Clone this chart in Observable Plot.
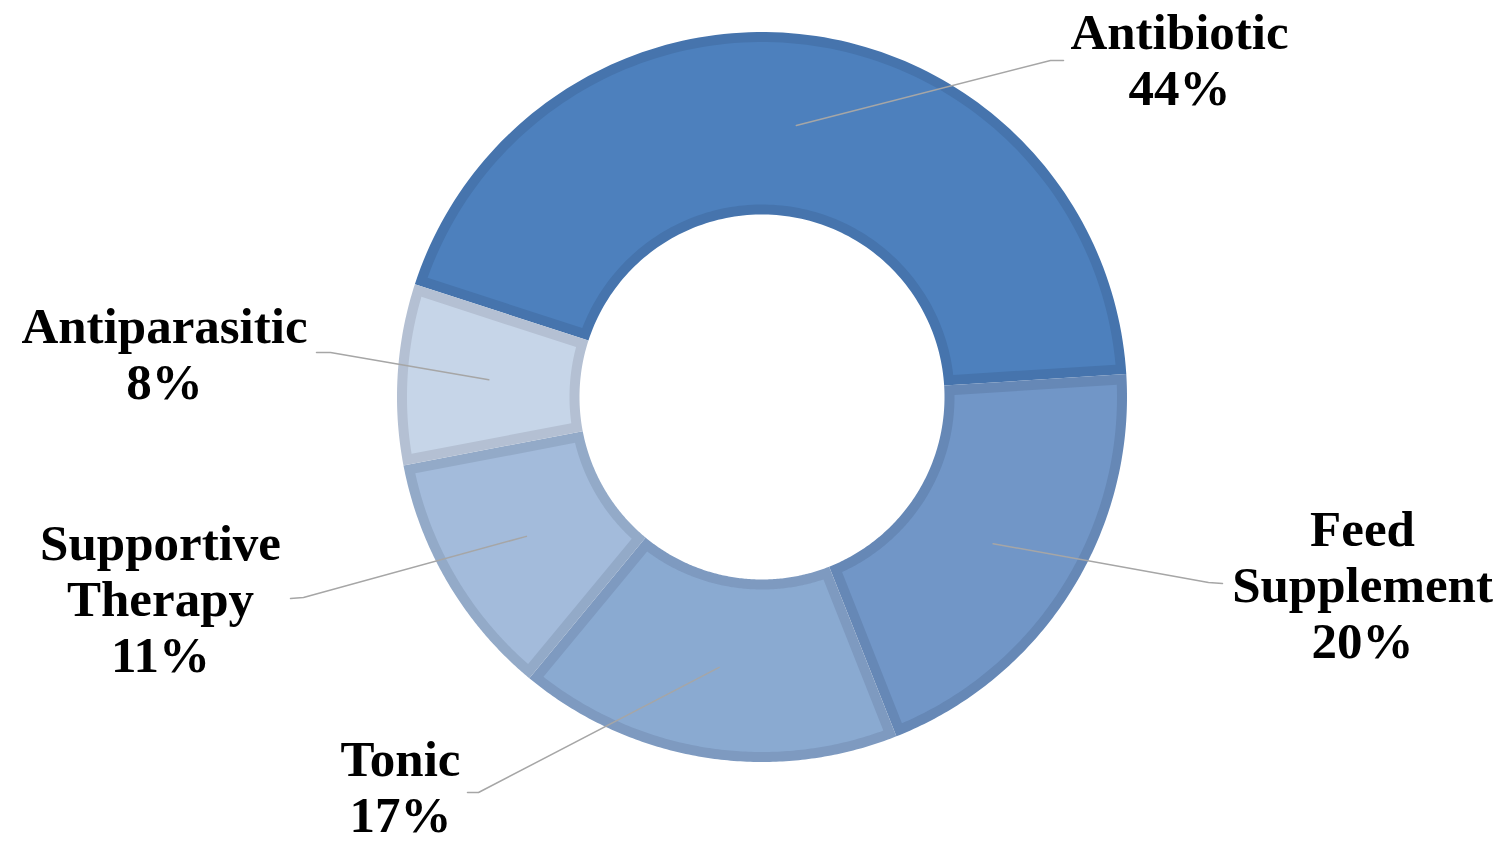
<!DOCTYPE html>
<html>
<head>
<meta charset="utf-8">
<script src="https://cdn.jsdelivr.net/npm/d3@7"></script>
<script src="https://cdn.jsdelivr.net/npm/@observablehq/plot@0.6"></script>
<style>
  html, body { margin: 0; padding: 0; background: #ffffff; }
  #chart { width: 1502px; height: 841px; }
</style>
</head>
<body>
<div id="chart"></div>
<script>
// ---- data ----
const categories = ["Antibiotic", "Feed Supplement", "Tonic", "Supportive Therapy", "Antiparasitic"];
const values = [44, 20, 17, 11, 8];

// ---- styles ----
const fillColors = ["#4d80bd", "#7196c7", "#8aaad1", "#a3bbdb", "#c6d5e8"];
const borderColors = ["#4674ad", "#6688b6", "#7e9ac0", "#93aac8", "#b4c0d3"];

// ---- layout (pixel units of the drawing) ----
const W = 1502, H = 841;
const center = {x: 761.5, y: 396.5};
const outerR = 365, innerR = 182.5, border = 10;
const startDeg = -72;
const fontSize = 51, lineHeight = 56;
const labelLayout = [
  {elbow: [1050, 60], end: [1063, 60], x: 1179, baseline: 48},
  {elbow: [1208, 582], end: [1222, 583], x: 1362, baseline: 545},
  {elbow: [478, 792], end: [467, 792], x: 400, baseline: 775},
  {elbow: [303, 597], end: [290, 598], x: 160, baseline: 559},
  {elbow: [330, 352], end: [316, 352], x: 164, baseline: 342}
];

// ---- compute slices ----
const start = startDeg * Math.PI / 180;
const arcs = d3.pie().sort(null).startAngle(start).endAngle(start + 2 * Math.PI)(values);

const px = (r, a) => center.x + r * Math.sin(a);
const py = (r, a) => center.y - r * Math.cos(a);

function ring(name, a0, a1, ro, ri, inset, key, color) {
  const pts = [];
  const n = 120;
  const ao = inset ? Math.asin(inset / ro) : 0;
  const ai = inset ? Math.asin(inset / ri) : 0;
  const o0 = a0 + ao, o1 = a1 - ao, i0 = a0 + ai, i1 = a1 - ai;
  for (let k = 0; k <= n; k++) {
    const a = o0 + (o1 - o0) * k / n;
    pts.push({key, color, x: px(ro, a), y: py(ro, a)});
  }
  for (let k = n; k >= 0; k--) {
    const a = i0 + (i1 - i0) * k / n;
    pts.push({key, color, x: px(ri, a), y: py(ri, a)});
  }
  pts.push({...pts[0]});
  return pts;
}

const borderRows = [], fillRows = [], leaderRows = [], textRows = [];
arcs.forEach((arc, i) => {
  const name = categories[i];
  borderRows.push(...ring(name, arc.startAngle, arc.endAngle, outerR, innerR, 0, name + "-b", borderColors[i]));
  fillRows.push(...ring(name, arc.startAngle, arc.endAngle, outerR - border, innerR + border, border, name + "-f", fillColors[i]));
  const mid = (arc.startAngle + arc.endAngle) / 2;
  const rMid = (outerR + innerR) / 2;
  const L = labelLayout[i];
  leaderRows.push({key: name, x: px(rMid, mid), y: py(rMid, mid)});
  leaderRows.push({key: name, x: L.elbow[0], y: L.elbow[1]});
  leaderRows.push({key: name, x: L.end[0], y: L.end[1]});
  const lines = [...name.split(" "), values[i] + "%"];
  lines.forEach((t, j) => {
    textRows.push({text: t, x: L.x, y: L.baseline + j * lineHeight - 0.32 * fontSize});
  });
});

const chart = Plot.plot({
  width: W,
  height: H,
  margin: 0,
  x: {domain: [0, W], range: [0, W], axis: null},
  y: {domain: [0, H], range: [0, H], axis: null},
  color: {type: "identity"},
  style: {background: "#ffffff"},
  marks: [
    Plot.line(borderRows, {x: "x", y: "y", z: "key", fill: "color", stroke: "none", curve: "linear"}),
    Plot.line(fillRows, {x: "x", y: "y", z: "key", fill: "color", stroke: "none", curve: "linear"}),
    Plot.line(leaderRows, {x: "x", y: "y", z: "key", stroke: "#a6a6a6", strokeWidth: 1.5, curve: "linear"}),
    Plot.text(textRows, {
      x: "x", y: "y", text: "text",
      fontSize: fontSize, fontWeight: "bold",
      fontFamily: "Liberation Serif",
      fill: "#000000", textAnchor: "middle"
    })
  ]
});
document.getElementById("chart").appendChild(chart);
</script>
</body>
</html>
